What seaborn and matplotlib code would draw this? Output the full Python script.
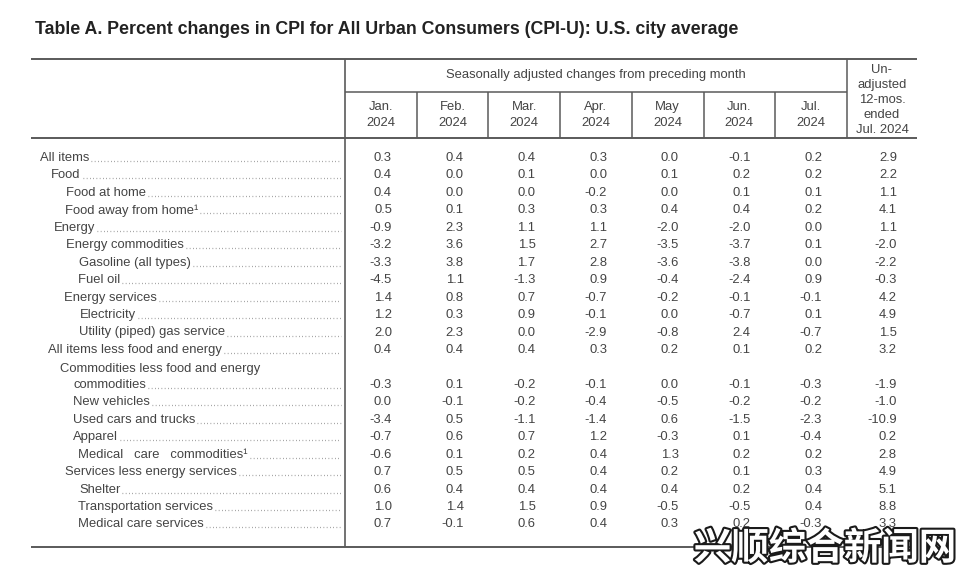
import matplotlib
matplotlib.use('Agg')
import matplotlib.pyplot as plt
import matplotlib.patheffects as pe
import seaborn as sns

sns.set_theme(style='white')
plt.rcParams['font.family'] = ['Liberation Sans', 'DejaVu Sans']

title = 'Table A. Percent changes in CPI for All Urban Consumers (CPI-U): U.S. city average'
group_header = 'Seasonally adjusted changes from preceding month'
months = ['Jan.', 'Feb.', 'Mar.', 'Apr.', 'May', 'Jun.', 'Jul.']
year = '2024'
yoy_header = ['Un-', 'adjusted', '12-mos.', 'ended', 'Jul. 2024']

labels = [
    'All items', 'Food', 'Food at home', 'Food away from home\u00b9', 'Energy',
    'Energy commodities', 'Gasoline (all types)', 'Fuel oil', 'Energy services',
    'Electricity', 'Utility (piped) gas service', 'All items less food and energy',
    'Commodities less food and energy\ncommodities', 'New vehicles',
    'Used cars and trucks', 'Apparel', 'Medical   care   commodities\u00b9',
    'Services less energy services', 'Shelter', 'Transportation services',
    'Medical care services',
]
# label left edge in pixels (indent level of each item)
indent = [40, 51, 66, 65, 54, 66, 79, 78, 64, 80, 79, 48, 73, 73, 73, 73, 78, 65, 79, 78, 78]

jan = [0.3, 0.4, 0.4, 0.5, -0.9, -3.2, -3.3, -4.5, 1.4, 1.2, 2.0, 0.4, -0.3, 0.0, -3.4, -0.7, -0.6, 0.7, 0.6, 1.0, 0.7]
feb = [0.4, 0.0, 0.0, 0.1, 2.3, 3.6, 3.8, 1.1, 0.8, 0.3, 2.3, 0.4, 0.1, -0.1, 0.5, 0.6, 0.1, 0.5, 0.4, 1.4, -0.1]
mar = [0.4, 0.1, 0.0, 0.3, 1.1, 1.5, 1.7, -1.3, 0.7, 0.9, 0.0, 0.4, -0.2, -0.2, -1.1, 0.7, 0.2, 0.5, 0.4, 1.5, 0.6]
apr = [0.3, 0.0, -0.2, 0.3, 1.1, 2.7, 2.8, 0.9, -0.7, -0.1, -2.9, 0.3, -0.1, -0.4, -1.4, 1.2, 0.4, 0.4, 0.4, 0.9, 0.4]
may = [0.0, 0.1, 0.0, 0.4, -2.0, -3.5, -3.6, -0.4, -0.2, 0.0, -0.8, 0.2, 0.0, -0.5, 0.6, -0.3, 1.3, 0.2, 0.4, -0.5, 0.3]
jun = [-0.1, 0.2, 0.1, 0.4, -2.0, -3.7, -3.8, -2.4, -0.1, -0.7, 2.4, 0.1, -0.1, -0.2, -1.5, 0.1, 0.2, 0.1, 0.2, -0.5, 0.2]
jul = [0.2, 0.2, 0.1, 0.2, 0.0, 0.1, 0.0, 0.9, -0.1, 0.1, -0.7, 0.2, -0.3, -0.2, -2.3, -0.4, 0.2, 0.3, 0.4, 0.4, -0.3]
yoy = [2.9, 2.2, 1.1, 4.1, 1.1, -2.0, -2.2, -0.3, 4.2, 4.9, 1.5, 3.2, -1.9, -1.0, -10.9, 0.2, 2.8, 4.9, 5.1, 8.8, 3.3]
columns = [jan, feb, mar, apr, may, jun, jul, yoy]

watermark = '兴顺综合新闻网'

# layout (pixels)
W, H = 960, 574
left, right = 31, 917
top_y, sub_y, head_y, bot_y = 59, 92, 138, 547
stub_x = 345
col_w = 71.7
row0, row_h = 158, 17.45
txt = '#444444'
line_c = '#5a5a5a'
fs = 9.4

fig = plt.figure(figsize=(W / 100, H / 100), dpi=100)
ax = fig.add_axes([0, 0, 1, 1])
ax.set_xlim(0, W)
ax.set_ylim(H, 0)
ax.axis('off')

ax.text(35, 29, title, fontsize=12.8, fontweight='bold', color='#222222', va='center', ha='left')

# rules
ax.hlines([top_y, bot_y], left, right, color=line_c, lw=1.4)
ax.hlines(head_y, left, right, color=line_c, lw=1.4)
ax.hlines(sub_y, stub_x, stub_x + 7 * col_w, color=line_c, lw=1.1)
ax.vlines(stub_x, top_y, bot_y, color=line_c, lw=1.2)
ax.vlines(stub_x + 7 * col_w, top_y, head_y, color=line_c, lw=1.1)
for k in range(1, 7):
    ax.vlines(stub_x + k * col_w, sub_y, head_y, color=line_c, lw=1.1)

ax.text(stub_x + 3.5 * col_w, 75, group_header, fontsize=fs, color=txt, ha='center', va='center')
for k, m in enumerate(months):
    cx = stub_x + (k + 0.5) * col_w
    ax.text(cx, 107, m, fontsize=fs, color=txt, ha='center', va='center')
    ax.text(cx, 123, year, fontsize=fs, color=txt, ha='center', va='center')
yx = (stub_x + 7 * col_w + right) / 2
for j, s in enumerate(yoy_header):
    ax.text(yx, 70 + 15 * j, s, fontsize=fs, color=txt, ha='center', va='center')

fig.canvas.draw()
renderer = fig.canvas.get_renderer()
inv = ax.transData.inverted()

for i, lab in enumerate(labels):
    y = row0 + row_h * (i + (1 if i >= 12 else 0))
    if '\n' in lab:
        first, lab = lab.split('\n')
        ax.text(indent[i] - 13, y - 16, first, fontsize=fs, color=txt, ha='left', va='center')
    t = ax.text(indent[i], y, lab, fontsize=fs, color=txt, ha='left', va='center')
    bb = t.get_window_extent(renderer)
    x_end = inv.transform((bb.x1, bb.y0))[0]
    ax.plot([x_end + 2, 341], [y + 3, y + 3], color='#8a8a8a', lw=0.9,
            linestyle=(0, (0.6, 2.0)), solid_capstyle='round')
    for k, col in enumerate(columns):
        rx = stub_x + k * col_w + (47 if k < 7 else 50)
        ax.text(rx, y, f'{col[i]:.1f}', fontsize=fs, color=txt, ha='right', va='center')

ax.text(825, 548, watermark, fontsize=27, fontweight='bold', color='white',
        family=['Noto Sans CJK SC', 'DejaVu Sans'], ha='center', va='center',
        path_effects=[pe.withStroke(linewidth=3, foreground='#1a1a1a')])

fig.savefig('out.png', dpi=100, facecolor='white')
